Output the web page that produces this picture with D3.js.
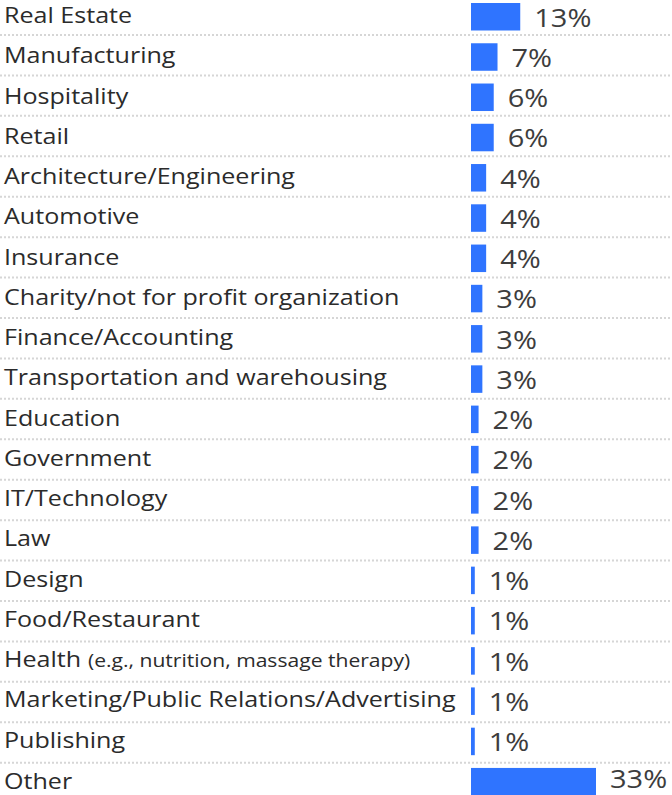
<!DOCTYPE html>
<html>
<head>
<meta charset="utf-8">
<script src="https://cdn.jsdelivr.net/npm/d3@7/dist/d3.min.js"></script>
<style>
  html, body { margin: 0; padding: 0; background: #fff; }
  svg { display: block; }
</style>
</head>
<body>
<svg id="chart" width="672" height="795"></svg>
<script>
const categories = [
  "Real Estate", "Manufacturing", "Hospitality", "Retail",
  "Architecture/Engineering", "Automotive", "Insurance",
  "Charity/not for profit organization", "Finance/Accounting",
  "Transportation and warehousing", "Education", "Government",
  "IT/Technology", "Law", "Design", "Food/Restaurant", "Health",
  "Marketing/Public Relations/Advertising", "Publishing", "Other"
];
const values = [13, 7, 6, 6, 4, 4, 4, 3, 3, 3, 2, 2, 2, 2, 1, 1, 1, 1, 1, 33];
const notes = { "Health": "(e.g., nutrition, massage therapy)" };

const W = 672, H = 795;
const FONT = "'Open Sans', 'Noto Sans', sans-serif";
const STRETCH = 1.14;   // horizontal widening to mimic the wide geometric face
const svg = d3.select("#chart");

const step = 40.26;
const y = d3.scaleBand().domain(categories).range([-4, -4 + step * categories.length]).padding(0);
const x = d3.scaleLinear().domain([0, 33]).range([471, 596]);
const sep = d3.scaleLinear().domain([0, categories.length - 2]).range([35, 762.7]);

const data = categories.map((c, i) => ({ c, v: values[i], i }));
const isLast = d => d.i === categories.length - 1;

// dotted separators
svg.append("g").selectAll("line")
  .data(data.slice(0, -1))
  .join("line")
  .attr("x1", 0).attr("x2", W)
  .attr("y1", d => sep(d.i)).attr("y2", d => sep(d.i))
  .attr("stroke", "#d6d6d6")
  .attr("stroke-width", 2)
  .attr("stroke-dasharray", "2 2");

// bars
svg.append("g").selectAll("rect")
  .data(data)
  .join("rect")
  .attr("x", x(0))
  .attr("y", d => y(d.c) + 7)
  .attr("width", d => x(d.v) - x(0))
  .attr("height", 27.5)
  .attr("fill", "#2f74ff");

// category labels
const labels = svg.append("g").selectAll("text")
  .data(data)
  .join("text")
  .attr("transform", d => `translate(4,${y(d.c) + 27 + (isLast(d) ? 1 : 0)}) scale(${STRETCH},1)`)
  .attr("font-family", FONT)
  .attr("font-size", 22)
  .attr("fill", "#2b2b2b");
labels.append("tspan").text(d => d.c);
labels.filter(d => notes[d.c])
  .append("tspan")
  .attr("dx", 6)
  .attr("font-size", 18.5)
  .text(d => notes[d.c]);

// value labels
svg.append("g").selectAll("text")
  .data(data)
  .join("text")
  .attr("transform", d => `translate(${x(d.v) + 14},${y(d.c) + (isLast(d) ? 27.5 : 30.5)}) scale(1.16,1)`)
  .attr("font-family", FONT)
  .attr("font-size", 25)
  .attr("fill", "#3d3d3d")
  .text(d => d.v + "%");
</script>
</body>
</html>
